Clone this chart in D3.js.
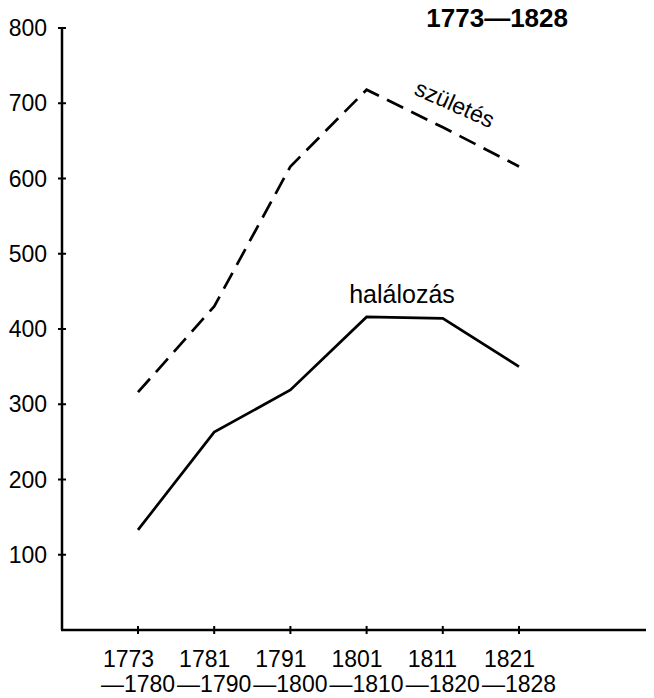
<!DOCTYPE html>
<html>
<head>
<meta charset="utf-8">
<script src="https://cdn.jsdelivr.net/npm/d3@7"></script>
<style>
    body { margin: 0; background: #fff; }
    svg { display: block; font-family: 'Liberation Sans', Arial, sans-serif; }
</style>
</head>
<body>
<div id="chart"></div>
<script>
const dim = {
    width: 654,
    height: 698
}

// data
const periodStart = ['1773', '1781', '1791', '1801', '1811', '1821']
const periodEnd = ['—1780', '—1790', '—1800', '—1810', '—1820', '—1828']
const births = [316, 430, 616, 718, 668, 616]
const deaths = [133, 263, 319, 416, 414, 350]
const yTicks = [100, 200, 300, 400, 500, 600, 700, 800]

const svg = d3.select('#chart')
    .append('svg')
        .attr('width', dim.width)
        .attr('height', dim.height)

// scales
const xScale = d3.scalePoint()
    .domain(periodStart)
    .range([138, 519])

const yScale = d3.scaleLinear()
    .domain([0, 800])
    .range([630, 28])

// axes
const yAxis = svg.append('g')
yAxis.append('line')
    .attr('x1', 62).attr('x2', 62)
    .attr('y1', yScale(800)).attr('y2', yScale(0))
    .attr('stroke', '#000')
    .attr('stroke-width', 2.5)

yAxis.selectAll('.tick')
    .data(yTicks)
    .join('line')
        .attr('x1', 58).attr('x2', 66)
        .attr('y1', d => yScale(d)).attr('y2', d => yScale(d))
        .attr('stroke', '#000')
        .attr('stroke-width', 2)

yAxis.selectAll('text')
    .data(yTicks)
    .join('text')
        .attr('x', 47)
        .attr('y', d => yScale(d) + 8)
        .attr('text-anchor', 'end')
        .attr('font-size', 23)
        .text(d => d)

const xAxis = svg.append('g')
xAxis.append('line')
    .attr('x1', 61).attr('x2', 646)
    .attr('y1', yScale(0)).attr('y2', yScale(0))
    .attr('stroke', '#000')
    .attr('stroke-width', 2.5)

xAxis.selectAll('line.tick')
    .data(periodStart)
    .join('line')
        .attr('class', 'tick')
        .attr('x1', d => xScale(d)).attr('x2', d => xScale(d))
        .attr('y1', yScale(0) - 4).attr('y2', yScale(0) + 4)
        .attr('stroke', '#000')
        .attr('stroke-width', 2)

// two line labels, left aligned on the start of the second line
const xLabels = xAxis.selectAll('g.label')
    .data(periodStart.map((d, i) => ({ start: d, end: periodEnd[i] })))
    .join('g')
        .attr('class', 'label')
        .attr('font-size', 23)

xLabels.append('text')
    .attr('class', 'end')
    .attr('x', d => xScale(d.start))
    .attr('y', 692)
    .attr('text-anchor', 'middle')
    .text(d => d.end)

xLabels.append('text')
    .attr('x', function(d) {
        const w = this.parentNode.querySelector('.end').getComputedTextLength()
        return xScale(d.start) - w / 2 + 2
    })
    .attr('y', 667)
    .text(d => d.start)

// lines
const line = d3.line()
    .x((d, i) => xScale(periodStart[i]))
    .y(d => yScale(d))

svg.append('path')
    .datum(births)
    .attr('d', line)
    .attr('fill', 'none')
    .attr('stroke', '#000')
    .attr('stroke-width', 2.7)
    .attr('stroke-dasharray', '18 9')

svg.append('path')
    .datum(deaths)
    .attr('d', line)
    .attr('fill', 'none')
    .attr('stroke', '#000')
    .attr('stroke-width', 2.7)

// labels
svg.append('text')
    .attr('transform', 'translate(413,94) rotate(24)')
    .attr('font-size', 23)
    .text('születés')

svg.append('text')
    .attr('x', 402)
    .attr('y', 303)
    .attr('text-anchor', 'middle')
    .attr('font-size', 25)
    .text('halálozás')

svg.append('text')
    .attr('x', 568)
    .attr('y', 27)
    .attr('text-anchor', 'end')
    .attr('font-size', 26)
    .attr('font-weight', 'bold')
    .text('1773—1828')
</script>
</body>
</html>
